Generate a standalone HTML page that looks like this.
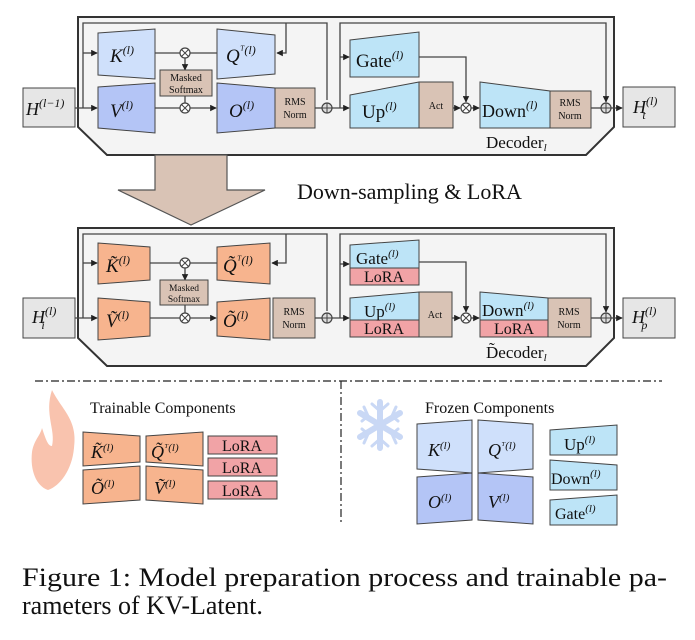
<!DOCTYPE html>
<html><head><meta charset="utf-8"><style>
html,body{margin:0;padding:0;background:#fff;}
svg{display:block;}
text{font-family:"Liberation Serif",serif;fill:#111;}
.m{font-style:italic;}
</style></head><body>
<svg width="695" height="640" viewBox="0 0 695 640" xmlns="http://www.w3.org/2000/svg">
<defs>
<marker id="a" viewBox="0 0 10 10" refX="9" refY="5" markerWidth="5" markerHeight="5" orient="auto"><path d="M0,0L10,5L0,10z" fill="#222"/></marker>
</defs>

<!-- ========== TOP DECODER ========== -->
<g>
<polygon points="78,17 614,17 614,127 586,155 107,155 78,127" fill="#f4f4f4" stroke="#333" stroke-width="2"/>
<rect x="23" y="88" width="52" height="39" fill="#e6e6e6" stroke="#444"/>
<text x="26" y="115" font-size="18" class="m">H<tspan font-size="12" dy="-8">(l−1)</tspan></text>
<g stroke="#444" stroke-width="1.3" fill="none">
<polyline points="327,100 327,23 83,23 83,108"/>
<line x1="75" y1="108" x2="97" y2="108" marker-end="url(#a)"/>
<line x1="83" y1="53" x2="97" y2="53" marker-end="url(#a)"/>
<polyline points="286,23 286,53 277,53" marker-end="url(#a)"/>
<line x1="155" y1="53" x2="217" y2="53"/>
<line x1="185" y1="58" x2="185" y2="70" marker-end="url(#a)"/>
<line x1="185" y1="96" x2="185" y2="103"/>
<line x1="155" y1="108" x2="216" y2="108" marker-end="url(#a)"/>
<line x1="315" y1="108" x2="322" y2="108"/>
<line x1="332" y1="108" x2="349" y2="108" marker-end="url(#a)"/>
<polyline points="340,108 340,23 606,23 606,102" marker-end="url(#a)"/>
<line x1="340" y1="57" x2="349" y2="57" marker-end="url(#a)"/>
<polyline points="419,57 466,57 466,102" marker-end="url(#a)"/>
<line x1="453" y1="108" x2="460" y2="108" marker-end="url(#a)"/>
<line x1="471" y1="108" x2="479" y2="108" marker-end="url(#a)"/>
<line x1="591" y1="108" x2="601" y2="108"/>
<line x1="611" y1="108" x2="622" y2="108" marker-end="url(#a)"/>
</g>
<polygon points="98,33 155,29 155,79 98,75" fill="#cfe0fb" stroke="#444"/>
<polygon points="217,29 275,35 275,74 217,79" fill="#cfe0fb" stroke="#444"/>
<polygon points="98,87 155,83 155,133 98,128" fill="#b4c5f6" stroke="#444"/>
<polygon points="217,83 275,88 275,128 217,133" fill="#b4c5f6" stroke="#444"/>
<rect x="275" y="88" width="40" height="40" fill="#d9c3b5" stroke="#444"/>
<rect x="160" y="70" width="52" height="26" fill="#d9c3b5" stroke="#444"/>
<text x="186" y="81" font-size="10" text-anchor="middle">Masked</text>
<text x="186" y="93" font-size="10" text-anchor="middle">Softmax</text>
<text x="295" y="105" font-size="10" text-anchor="middle">RMS</text>
<text x="295" y="118" font-size="10" text-anchor="middle">Norm</text>
<text x="110" y="62" font-size="19" class="m">K<tspan font-size="12" dy="-8">(l)</tspan></text>
<text x="226" y="62" font-size="19" class="m">Q<tspan font-size="12" dy="-8">ᵀ(l)</tspan></text>
<text x="110" y="117" font-size="19" class="m">V<tspan font-size="12" dy="-8">(l)</tspan></text>
<text x="229" y="117" font-size="19" class="m">O<tspan font-size="12" dy="-8">(l)</tspan></text>
<polygon points="350,40 419,32 419,77 350,77" fill="#bde4f7" stroke="#444"/>
<text x="356" y="67" font-size="19">Gate<tspan font-size="12" dy="-8" font-style="italic">(l)</tspan></text>
<polygon points="350,95 419,82 419,128 350,128" fill="#bde4f7" stroke="#444"/>
<rect x="419" y="82" width="34" height="46" fill="#d9c3b5" stroke="#444"/>
<text x="436" y="109" font-size="10" text-anchor="middle">Act</text>
<text x="362" y="118" font-size="19">Up<tspan font-size="12" dy="-8" font-style="italic">(l)</tspan></text>
<polygon points="480,82 550,91 550,128 480,128" fill="#bde4f7" stroke="#444"/>
<rect x="550" y="91" width="41" height="37" fill="#d9c3b5" stroke="#444"/>
<text x="482" y="117" font-size="18">Down<tspan font-size="12" dy="-8" font-style="italic">(l)</tspan></text>
<text x="570" y="106" font-size="10" text-anchor="middle">RMS</text>
<text x="570" y="119" font-size="10" text-anchor="middle">Norm</text>
<rect x="623" y="87" width="52" height="40" fill="#e6e6e6" stroke="#444"/>
<text x="633" y="113" font-size="18" class="m">H<tspan font-size="12" dy="-8">(l)</tspan><tspan font-size="12" dx="-15" dy="14">t</tspan></text>
<text x="486" y="148" font-size="17">Decoder<tspan font-size="11" dy="3" font-style="italic">l</tspan></text>
<g fill="#fff" stroke="#444" stroke-width="1.2">
<circle cx="185" cy="53" r="5"/><circle cx="185" cy="108" r="5"/><circle cx="466" cy="108" r="5"/>
<circle cx="327" cy="108" r="5" fill="#ddd"/><circle cx="606" cy="108" r="5" fill="#ddd"/>
</g>
<g stroke="#444" stroke-width="1">
<path d="M181.5,49.5l7,7M188.5,49.5l-7,7M181.5,104.5l7,7M188.5,104.5l-7,7M462.5,104.5l7,7M469.5,104.5l-7,7"/>
<path d="M322,108h10M327,103v10M601,108h10M606,103v10"/>
</g>
</g>

<!-- big arrow -->
<polygon points="155,155 227,155 227,190 265,190 191,225 118,190 155,190" fill="#d9c3b5" stroke="#555" stroke-width="1.2"/>
<text x="297" y="199" font-size="22">Down-sampling &amp; LoRA</text>

<!-- ========== LOWER DECODER ========== -->
<g>
<polygon points="78,228 614,228 614,338 586,366 107,366 78,338" fill="#f4f4f4" stroke="#333" stroke-width="2"/>
<rect x="23" y="298" width="52" height="40" fill="#e6e6e6" stroke="#444"/>
<text x="32" y="323" font-size="18" class="m">H<tspan font-size="12" dy="-8">(l)</tspan><tspan font-size="12" dx="-15" dy="14">i</tspan></text>
<g stroke="#444" stroke-width="1.3" fill="none">
<polyline points="327,311 327,234 83,234 83,318"/>
<line x1="75" y1="318" x2="97" y2="318" marker-end="url(#a)"/>
<line x1="83" y1="263" x2="97" y2="263" marker-end="url(#a)"/>
<polyline points="286,234 286,263 272,263" marker-end="url(#a)"/>
<line x1="150" y1="263" x2="217" y2="263"/>
<line x1="185" y1="268" x2="185" y2="280" marker-end="url(#a)"/>
<line x1="185" y1="305" x2="185" y2="313"/>
<line x1="150" y1="318" x2="216" y2="318" marker-end="url(#a)"/>
<line x1="315" y1="318" x2="322" y2="318"/>
<line x1="332" y1="318" x2="349" y2="318" marker-end="url(#a)"/>
<polyline points="340,318 340,234 606,234 606,312" marker-end="url(#a)"/>
<line x1="340" y1="264" x2="349" y2="264" marker-end="url(#a)"/>
<polyline points="419,262 466,262 466,312" marker-end="url(#a)"/>
<line x1="452" y1="318" x2="460" y2="318" marker-end="url(#a)"/>
<line x1="471" y1="318" x2="479" y2="318" marker-end="url(#a)"/>
<line x1="591" y1="318" x2="601" y2="318"/>
<line x1="611" y1="318" x2="622" y2="318" marker-end="url(#a)"/>
</g>
<polygon points="98,243 150,247 150,280 98,284" fill="#f7b48e" stroke="#444"/>
<polygon points="217,247 270,243 270,284 217,280" fill="#f7b48e" stroke="#444"/>
<polygon points="98,298 150,302 150,336 98,340" fill="#f7b48e" stroke="#444"/>
<polygon points="217,302 270,298 270,340 217,336" fill="#f7b48e" stroke="#444"/>
<rect x="273" y="298" width="42" height="40" fill="#d9c3b5" stroke="#444"/>
<rect x="160" y="280" width="48" height="25" fill="#d9c3b5" stroke="#444"/>
<text x="184" y="291" font-size="9.5" text-anchor="middle">Masked</text>
<text x="184" y="302" font-size="9.5" text-anchor="middle">Softmax</text>
<text x="294" y="315" font-size="10" text-anchor="middle">RMS</text>
<text x="294" y="328" font-size="10" text-anchor="middle">Norm</text>
<text x="106" y="272" font-size="19" class="m">K̃<tspan font-size="12" dy="-8">(l)</tspan></text>
<text x="223" y="272" font-size="19" class="m">Q̃<tspan font-size="12" dy="-8">ᵀ(l)</tspan></text>
<text x="106" y="327" font-size="19" class="m">Ṽ<tspan font-size="12" dy="-8">(l)</tspan></text>
<text x="223" y="327" font-size="19" class="m">Õ<tspan font-size="12" dy="-8">(l)</tspan></text>
<polygon points="350,245 419,240 419,268 350,268" fill="#bde4f7" stroke="#444"/>
<rect x="350" y="268" width="69" height="17" fill="#f1a3a6" stroke="#444"/>
<text x="356" y="264" font-size="17">Gate<tspan font-size="11" dy="-7" font-style="italic">(l)</tspan></text>
<text x="384" y="282" font-size="16" text-anchor="middle">LoRA</text>
<polygon points="350,298 419,292 419,320 350,320" fill="#bde4f7" stroke="#444"/>
<rect x="350" y="320" width="69" height="17" fill="#f1a3a6" stroke="#444"/>
<rect x="419" y="292" width="33" height="45" fill="#d9c3b5" stroke="#444"/>
<text x="435" y="318" font-size="10" text-anchor="middle">Act</text>
<text x="364" y="317" font-size="17">Up<tspan font-size="11" dy="-7" font-style="italic">(l)</tspan></text>
<text x="384" y="334" font-size="16" text-anchor="middle">LoRA</text>
<polygon points="480,292 548,298 548,320 480,320" fill="#bde4f7" stroke="#444"/>
<rect x="480" y="320" width="68" height="17" fill="#f1a3a6" stroke="#444"/>
<rect x="548" y="298" width="43" height="39" fill="#d9c3b5" stroke="#444"/>
<text x="482" y="316" font-size="17">Down<tspan font-size="11" dy="-7" font-style="italic">(l)</tspan></text>
<text x="514" y="334" font-size="16" text-anchor="middle">LoRA</text>
<text x="569" y="315" font-size="10" text-anchor="middle">RMS</text>
<text x="569" y="328" font-size="10" text-anchor="middle">Norm</text>
<rect x="623" y="298" width="52" height="40" fill="#e6e6e6" stroke="#444"/>
<text x="632" y="323" font-size="18" class="m">H<tspan font-size="12" dy="-8">(l)</tspan><tspan font-size="12" dx="-15" dy="14">p</tspan></text>
<text x="486" y="358" font-size="17">D̃ecoder<tspan font-size="11" dy="3" font-style="italic">l</tspan></text>
<g fill="#fff" stroke="#444" stroke-width="1.2">
<circle cx="185" cy="263" r="5"/><circle cx="185" cy="318" r="5"/><circle cx="466" cy="318" r="5"/>
<circle cx="327" cy="318" r="5" fill="#ddd"/><circle cx="606" cy="318" r="5" fill="#ddd"/>
</g>
<g stroke="#444" stroke-width="1">
<path d="M181.5,259.5l7,7M188.5,259.5l-7,7M181.5,314.5l7,7M188.5,314.5l-7,7M462.5,314.5l7,7M469.5,314.5l-7,7"/>
<path d="M322,318h10M327,313v10M601,318h10M606,313v10"/>
</g>
</g>

<!-- separators -->
<line x1="35" y1="381" x2="662" y2="381" stroke="#222" stroke-width="1.2" stroke-dasharray="8,3,2,3"/>
<line x1="341" y1="381" x2="341" y2="522" stroke="#222" stroke-width="1.2" stroke-dasharray="8,3,2,3"/>

<!-- flame -->
<path d="M52,390 C62,410 78,420 74,448 C72,470 60,486 48,490 C36,486 30,470 32,452 C34,440 40,436 42,428 C46,440 48,446 52,446 C56,430 44,414 52,390 Z" fill="#f9c3ae"/>
<text x="90" y="413" font-size="16">Trainable Components</text>
<polygon points="83,432 140,436 140,462 83,466" fill="#f7b48e" stroke="#444"/>
<polygon points="146,436 203,432 203,466 146,462" fill="#f7b48e" stroke="#444"/>
<polygon points="83,470 140,466 140,500 83,504" fill="#f7b48e" stroke="#444"/>
<polygon points="146,466 203,470 203,504 146,500" fill="#f7b48e" stroke="#444"/>
<text x="91" y="458" font-size="18" class="m">K̃<tspan font-size="11" dy="-7">(l)</tspan></text>
<text x="151" y="458" font-size="18" class="m">Q̃<tspan font-size="11" dy="-7">ᵀ(l)</tspan></text>
<text x="91" y="494" font-size="18" class="m">Õ<tspan font-size="11" dy="-7">(l)</tspan></text>
<text x="154" y="494" font-size="18" class="m">Ṽ<tspan font-size="11" dy="-7">(l)</tspan></text>
<rect x="208" y="436" width="69" height="18" fill="#f1a3a6" stroke="#444"/>
<rect x="208" y="458" width="69" height="18" fill="#f1a3a6" stroke="#444"/>
<rect x="208" y="481" width="69" height="18" fill="#f1a3a6" stroke="#444"/>
<text x="242" y="451" font-size="16" text-anchor="middle">LoRA</text>
<text x="242" y="473" font-size="16" text-anchor="middle">LoRA</text>
<text x="242" y="496" font-size="16" text-anchor="middle">LoRA</text>

<!-- snowflake -->
<g stroke="#c9d8f5" stroke-width="6" stroke-linecap="round" fill="none">
<path d="M380,402 V448 M360,413 L400,437 M360,437 L400,413"/>
</g>
<g stroke="#c9d8f5" stroke-width="3" stroke-linecap="round" fill="none">
<path d="M372,404 L380,411 L388,404 M372,446 L380,439 L388,446 M362,421 L368,416 L364,407 M398,421 L392,416 L396,407 M362,429 L368,434 L364,443 M398,429 L392,434 L396,443"/>
</g>
<text x="425" y="413" font-size="16">Frozen Components</text>
<polygon points="417,424 472,420 472,473 417,469" fill="#cfe0fb" stroke="#444"/>
<polygon points="478,420 533,424 533,469 478,473" fill="#cfe0fb" stroke="#444"/>
<polygon points="417,477 472,473 472,520 417,524" fill="#b4c5f6" stroke="#444"/>
<polygon points="478,473 533,477 533,524 478,520" fill="#b4c5f6" stroke="#444"/>
<text x="428" y="456" font-size="18" class="m">K<tspan font-size="11" dy="-7">(l)</tspan></text>
<text x="488" y="456" font-size="18" class="m">Q<tspan font-size="11" dy="-7">ᵀ(l)</tspan></text>
<text x="428" y="508" font-size="18" class="m">O<tspan font-size="11" dy="-7">(l)</tspan></text>
<text x="488" y="508" font-size="18" class="m">V<tspan font-size="11" dy="-7">(l)</tspan></text>
<polygon points="550,430 617,425 617,455 550,455" fill="#bde4f7" stroke="#444"/>
<polygon points="550,460 617,465 617,490 550,490" fill="#bde4f7" stroke="#444"/>
<polygon points="550,500 617,495 617,525 550,525" fill="#bde4f7" stroke="#444"/>
<text x="564" y="450" font-size="17">Up<tspan font-size="11" dy="-7" font-style="italic">(l)</tspan></text>
<text x="551" y="484" font-size="16">Down<tspan font-size="11" dy="-7" font-style="italic">(l)</tspan></text>
<text x="555" y="519" font-size="16">Gate<tspan font-size="11" dy="-7" font-style="italic">(l)</tspan></text>

<!-- caption -->
<text x="22" y="586" font-size="26" textLength="645" lengthAdjust="spacingAndGlyphs">Figure 1: Model preparation process and trainable pa-</text>
<text x="22" y="614" font-size="26">rameters of KV-Latent.</text>
</svg>
</body></html>
